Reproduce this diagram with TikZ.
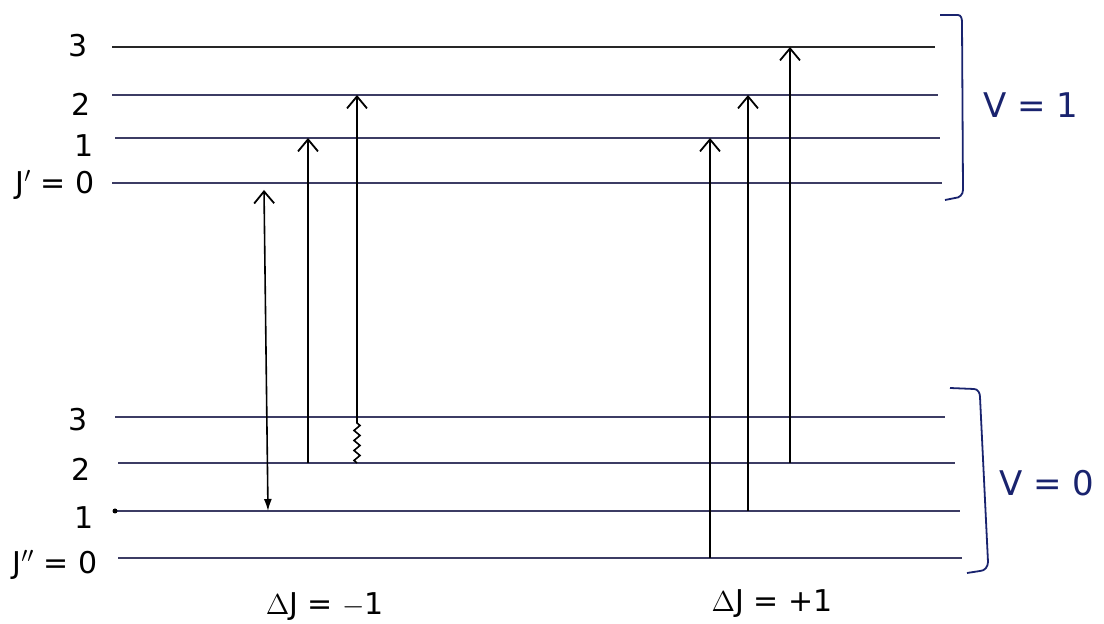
\documentclass[tikz,border=0pt]{standalone}
\usepackage{fontspec}
\setmainfont{DejaVu Sans}
\usetikzlibrary{arrows.meta,decorations.pathmorphing}
\definecolor{levelc}{RGB}{60,60,100}
\definecolor{brackc}{RGB}{25,35,110}
\begin{document}
\begin{tikzpicture}[x=0.5pt,y=-0.5pt,
  level/.style={levelc,line width=0.7pt},
  toplevel/.style={black!85,line width=1.3pt},
  trans/.style={black,line width=0.8pt,-{Straight Barb[length=6pt,width=10pt,line width=0.9pt]}},
  both/.style={black,line width=0.8pt,{Latex[length=6pt,width=4pt]}-{Straight Barb[length=6pt,width=10pt,line width=0.9pt]}},
  brack/.style={brackc,line width=0.9pt},
  lab/.style={font=\fontsize{15}{17}\selectfont,text=black,inner sep=0pt},
  vlab/.style={font=\fontsize{17}{19}\selectfont,text=brackc,inner sep=0pt}]
\useasboundingbox (0,0) rectangle (1104,624);
% upper levels (v=1)
\coordinate (u3l) at (112,47);  \coordinate (u3r) at (935,47);
\coordinate (u2l) at (112,95);  \coordinate (u2r) at (938,95);
\coordinate (u1l) at (115,138); \coordinate (u1r) at (940,138);
\coordinate (u0l) at (112,183); \coordinate (u0r) at (942,183);
\draw[toplevel] (u3l) -- (u3r);
\draw[level] (u2l) -- (u2r);
\draw[level] (u1l) -- (u1r);
\draw[level] (u0l) -- (u0r);
% lower levels (v=0)
\coordinate (l3l) at (115,417); \coordinate (l3r) at (945,417);
\coordinate (l2l) at (118,463); \coordinate (l2r) at (955,463);
\coordinate (l1l) at (115,511); \coordinate (l1r) at (960,511);
\coordinate (l0l) at (118,558); \coordinate (l0r) at (962,558);
\draw[level] (l3l) -- (l3r);
\draw[level] (l2l) -- (l2r);
\draw[level] (l1l) -- (l1r);
\draw[level] (l0l) -- (l0r);
\fill (l1l) circle (2.5);
% labels
\node[lab] (t3) at (78,46) {3};
\node[lab] (t2) at (81,104) {2};
\node[lab] (t1) at (84,146) {1};
\node[lab] (t0) at (55,185) {J$'$ = 0};
\node[lab] (b3) at (78,420) {3};
\node[lab] (b2) at (81,469) {2};
\node[lab] (b1) at (84,518) {1};
\node[lab] (b0) at (55,565) {J$''$ = 0};
% brackets
\draw[brack] (940,15) -- (958,15) to[out=0,in=90] (962,22) -- (963,190) to[out=-90,in=0] (955,198) -- (945,200);
\draw[brack] (950,388) -- (974,389) to[out=0,in=90] (980,397) -- (988,562) to[out=-90,in=0] (980,571) -- (967,573);
\node[vlab] (v1) at (1031,105) {V = 1};
\node[vlab] (v0) at (1047,483) {V = 0};
% Delta J = -1 transitions
\coordinate (a1s) at (268,511); \coordinate (a1e) at (264,190);
\coordinate (a2s) at (308,463); \coordinate (a2e) at (308,138);
\coordinate (a3s) at (357,463); \coordinate (a3m) at (357,420); \coordinate (a3e) at (357,95);
\draw[both] (a1s) -- (a1e);
\draw[trans] (a2s) -- (a2e);
\draw[black,line width=0.8pt,decorate,decoration={zigzag,amplitude=1.5,segment length=5}] (a3s) -- (a3m);
\draw[trans] (a3m) -- (a3e);
% Delta J = +1 transitions
\coordinate (b1s) at (710,558); \coordinate (b1e) at (710,138);
\coordinate (b2s) at (748,511); \coordinate (b2e) at (748,95);
\coordinate (b3s) at (790,463); \coordinate (b3e) at (790,47);
\draw[trans] (b1s) -- (b1e);
\draw[trans] (b2s) -- (b2e);
\draw[trans] (b3s) -- (b3e);
% bottom labels
\node[lab] (dm) at (325,607) {$\Delta$J = $-$1};
\node[lab] (dp) at (772,604) {$\Delta$J = +1};
\end{tikzpicture}
\end{document}
